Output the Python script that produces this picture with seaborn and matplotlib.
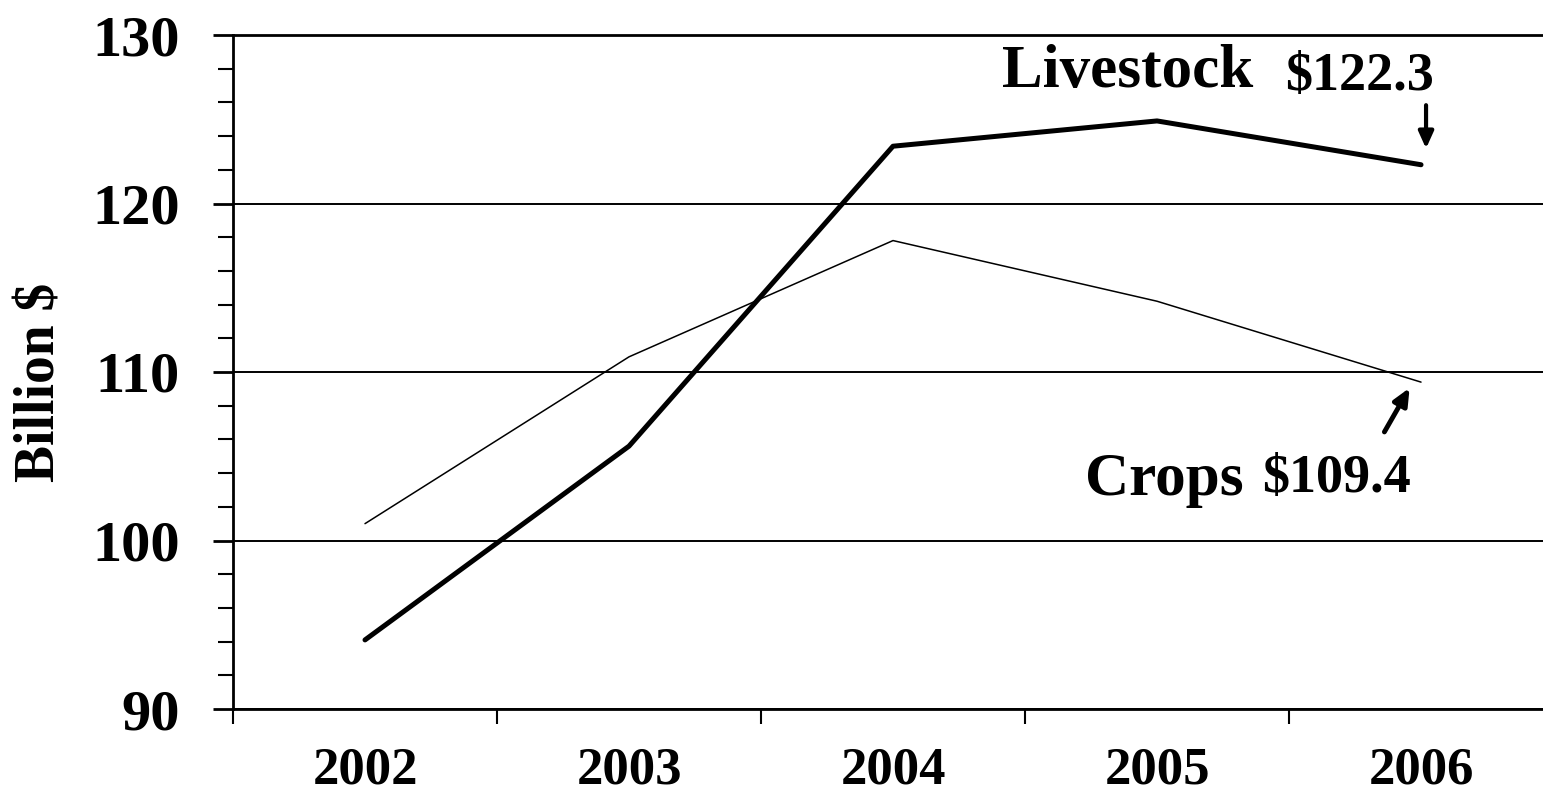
import matplotlib
matplotlib.use("Agg")
import matplotlib.pyplot as plt
import pandas as pd
import seaborn as sns
from matplotlib.ticker import MultipleLocator, FixedLocator, FixedFormatter, NullFormatter

years = ["2002", "2003", "2004", "2005", "2006"]
livestock = [94.1, 105.6, 123.4, 124.9, 122.3]
crops = [101.0, 110.9, 117.8, 114.2, 109.4]

df = pd.DataFrame({"year": years, "Livestock": livestock, "Crops": crops})

sns.set_style("white")
plt.rcParams['font.family'] = ['Liberation Serif', 'DejaVu Serif']
plt.rcParams['font.weight'] = 'bold'
plt.rcParams['text.color'] = 'black'
plt.rcParams['axes.labelcolor'] = 'black'
plt.rcParams['xtick.color'] = 'black'
plt.rcParams['ytick.color'] = 'black'

fig = plt.figure(figsize=(15.43, 7.96), dpi=100)
ax = fig.add_axes([233 / 1543, 1 - 709 / 796, 1 - 233 / 1543, 674 / 796])

sns.lineplot(x="year", y="Crops", data=df, ax=ax, color="black", linewidth=1.1,
             sort=False, solid_capstyle="round")
sns.lineplot(x="year", y="Livestock", data=df, ax=ax, color="black", linewidth=3.6,
             sort=False, solid_capstyle="round")

ax.set_xlim(-0.5, 4.462)
ax.set_ylim(90, 130)

# y axis
ax.yaxis.set_major_locator(MultipleLocator(10))
ax.yaxis.set_minor_locator(MultipleLocator(2))
ax.tick_params(axis="y", which="major", length=14.5, width=2, pad=24,
               labelsize=42, labelcolor="black", color="black", left=True)
ax.tick_params(axis="y", which="minor", length=11, width=1.5, color="black", left=True)
ax.yaxis.grid(True, which="major", color="black", linewidth=1.4)

# x axis: ticks between categories, labels at categories
ax.xaxis.set_major_locator(FixedLocator([-0.5, 0.5, 1.5, 2.5, 3.5]))
ax.xaxis.set_major_formatter(NullFormatter())
ax.xaxis.set_minor_locator(FixedLocator(range(len(years))))
ax.xaxis.set_minor_formatter(FixedFormatter(years))
ax.tick_params(axis="x", which="major", length=11, width=1.5, color="black", bottom=True)
ax.tick_params(axis="x", which="minor", length=0, pad=27, labelsize=38, labelcolor="black")
for lab in ax.get_xticklabels(minor=True) + ax.get_yticklabels():
    lab.set_fontweight("bold")

for side in ["left", "bottom", "top"]:
    ax.spines[side].set_visible(True)
    ax.spines[side].set_color("black")
    ax.spines[side].set_linewidth(2)
ax.spines["right"].set_visible(False)

ax.set_xlabel("")
ax.set_ylabel("Billion $", fontsize=40, fontweight="bold", va="center", color="black")
ax.yaxis.set_label_coords(-0.147, 0.484)

# annotations
ax.text(2.413, 126.91, "Livestock", fontsize=44, fontweight="bold", ha="left", va="baseline")
ax.text(3.485, 126.75, "$122.3", fontsize=39, fontweight="bold", ha="left", va="baseline")
ax.text(2.727, 102.70, "Crops", fontsize=44, fontweight="bold", ha="left", va="baseline")
ax.text(3.398, 102.90, "$109.4", fontsize=39, fontweight="bold", ha="left", va="baseline")

ax.annotate("", xy=(4.019, 123.1), xytext=(4.019, 126.0),
            arrowprops=dict(arrowstyle="-|>,head_length=1.0,head_width=0.45",
                            color="black", lw=3))
ax.annotate("", xy=(3.962, 109.2), xytext=(3.856, 106.3),
            arrowprops=dict(arrowstyle="-|>,head_length=1.0,head_width=0.45",
                            color="black", lw=3.5))

fig.savefig("out.png", dpi=100)
